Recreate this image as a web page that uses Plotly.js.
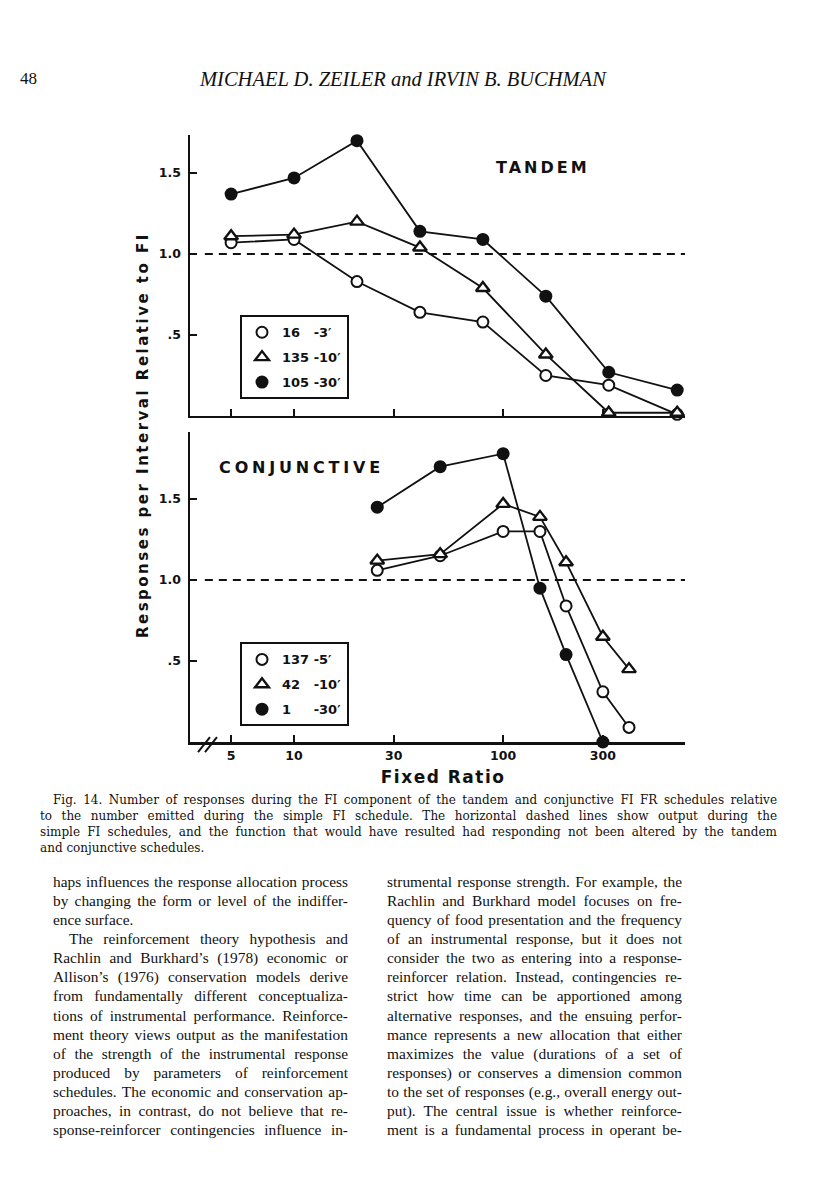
<!DOCTYPE html>
<html>
<head>
<meta charset="utf-8">
<script src="https://cdn.plot.ly/plotly-3.0.1.min.js"></script>
<style>
  body { margin: 0; background: #fff; }
  #page { position: relative; width: 816px; height: 1200px; overflow: hidden; background: #fff; color: #111; }
  #chart { position: absolute; left: 0; top: 0; width: 816px; height: 800px; }
  .txt { position: absolute; white-space: nowrap; }
  .serif { font-family: "Liberation Serif", serif; }
  .line { display: block; text-align: justify; text-align-last: justify; }
  .line.last { text-align: left; text-align-last: left; }
  #caption { font-family: "DejaVu Serif", serif; font-size: 12px; line-height: 16px; left: 40px; top: 792px; width: 737px; }
  .col { font-family: "Liberation Serif", serif; font-size: 15.4px; line-height: 19.08px; top: 872px; width: 295px; }
</style>
</head>
<body>
<div id="page">
  <div id="chart"></div>

  <div class="txt serif" style="left:20px; top:68px; font-size:17px; line-height:22px;">48</div>
  <div class="txt serif" style="left:200px; top:67px; font-size:20.5px; line-height:24px; font-style:italic;">MICHAEL D. ZEILER and IRVIN B. BUCHMAN</div>

  <div id="caption" class="txt">
    <span class="line" style="padding-left:13px;">Fig. 14. Number of responses during the FI component of the tandem and conjunctive FI FR schedules relative</span>
    <span class="line">to the number emitted during the simple FI schedule. The horizontal dashed lines show output during the</span>
    <span class="line">simple FI schedules, and the function that would have resulted had responding not been altered by the tandem</span>
    <span class="line last">and conjunctive schedules.</span>
  </div>

  <div class="txt col" style="left:53px;">
    <span class="line">haps influences the response allocation process</span>
    <span class="line">by changing the form or level of the indiffer-</span>
    <span class="line last">ence surface.</span>
    <span class="line" style="padding-left:16px;">The reinforcement theory hypothesis and</span>
    <span class="line">Rachlin and Burkhard’s (1978) economic or</span>
    <span class="line">Allison’s (1976) conservation models derive</span>
    <span class="line">from fundamentally different conceptualiza-</span>
    <span class="line">tions of instrumental performance. Reinforce-</span>
    <span class="line">ment theory views output as the manifestation</span>
    <span class="line">of the strength of the instrumental response</span>
    <span class="line">produced by parameters of reinforcement</span>
    <span class="line">schedules. The economic and conservation ap-</span>
    <span class="line">proaches, in contrast, do not believe that re-</span>
    <span class="line">sponse-reinforcer contingencies influence in-</span>
  </div>

  <div class="txt col" style="left:387px;">
    <span class="line">strumental response strength. For example, the</span>
    <span class="line">Rachlin and Burkhard model focuses on fre-</span>
    <span class="line">quency of food presentation and the frequency</span>
    <span class="line">of an instrumental response, but it does not</span>
    <span class="line">consider the two as entering into a response-</span>
    <span class="line">reinforcer relation. Instead, contingencies re-</span>
    <span class="line">strict how time can be apportioned among</span>
    <span class="line">alternative responses, and the ensuing perfor-</span>
    <span class="line">mance represents a new allocation that either</span>
    <span class="line">maximizes the value (durations of a set of</span>
    <span class="line">responses) or conserves a dimension common</span>
    <span class="line">to the set of responses (e.g., overall energy out-</span>
    <span class="line">put). The central issue is whether reinforce-</span>
    <span class="line">ment is a fundamental process in operant be-</span>
  </div>
</div>

<script>
// fixed ratio values, tandem panel
const frTandem = [5, 10, 20, 40, 80, 160, 320, 680];
const tandem16 = [1.07, 1.09, 0.83, 0.64, 0.58, 0.25, 0.19, 0.01];
const tandem135 = [1.11, 1.12, 1.20, 1.04, 0.79, 0.38, 0.02, 0.02];
const tandem105 = [1.37, 1.47, 1.70, 1.14, 1.09, 0.74, 0.27, 0.16];

// conjunctive panel
const frConj = [25, 50, 100, 150, 200, 300, 400];
const conj137 = [1.06, 1.15, 1.30, 1.30, 0.84, 0.31, 0.09];
const conj42 = [1.12, 1.16, 1.47, 1.39, 1.11, 0.65, 0.45];
const conj1 = [1.45, 1.70, 1.78, 0.95, 0.54, 0.0];

const frTicks = [5, 10, 30, 100, 300];
const frTickText = ["5", "10", "30", "100", "300"];
const yTicks = [0.5, 1.0, 1.5];
const yTickText = [".5", "1.0", "1.5"];
const simpleFI = 1.0; // dashed line: simple FI output

const ink = "#111";
const openCircle = { symbol: "circle", size: 11, color: "white", line: { color: ink, width: 2 } };
const openTri = { symbol: "triangle-up", size: 12, color: "white", line: { color: ink, width: 2.4 } };
const filled = { symbol: "circle", size: 13, color: ink, line: { color: ink, width: 0 } };

const series = [
    { x: frTandem, y: tandem16, name: "16\u00a0\u00a0\u00a0-3′", marker: openCircle, xa: "x", ya: "y", lg: "legend" },
    { x: frTandem, y: tandem135, name: "135 -10′", marker: openTri, xa: "x", ya: "y", lg: "legend" },
    { x: frTandem, y: tandem105, name: "105 -30′", marker: filled, xa: "x", ya: "y", lg: "legend" },
    { x: frConj, y: conj137, name: "137 -5′", marker: openCircle, xa: "x2", ya: "y2", lg: "legend2" },
    { x: frConj, y: conj42, name: "42\u00a0\u00a0\u00a0-10′", marker: openTri, xa: "x2", ya: "y2", lg: "legend2" },
    { x: frConj.slice(0, conj1.length), y: conj1, name: "1\u00a0\u00a0\u00a0\u00a0\u00a0-30′", marker: filled, xa: "x2", ya: "y2", lg: "legend2" }
];

let traces = [];
// lines first so that every marker sits on top
series.forEach(s => {
    traces.push({ x: s.x, y: s.y, xaxis: s.xa, yaxis: s.ya, mode: "lines", type: "scatter",
        line: { color: ink, width: 1.8 }, showlegend: false, cliponaxis: false, hoverinfo: "skip" });
});
series.forEach((s, i) => {
    traces.push({ x: s.x, y: s.y, xaxis: s.xa, yaxis: s.ya, mode: "markers", type: "scatter",
        marker: s.marker, name: s.name, legend: s.lg, legendgroup: "g" + i, cliponaxis: false });
});

const tickFont = { family: "DejaVu Sans", size: 12.5, color: ink, weight: "bold" };
const xBase = { type: "log", range: [Math.log10(3.18), Math.log10(741)], domain: [0, 1],
    tickvals: frTicks, ticktext: frTickText, ticks: "inside", ticklen: 7, tickwidth: 2, tickcolor: ink,
    showline: true, linewidth: 2.5, linecolor: ink, showgrid: false, zeroline: false, tickfont: tickFont };
const yBase = { tickvals: yTicks, ticktext: yTickText, ticks: "inside", ticklen: 7, tickwidth: 2, tickcolor: ink,
    showline: true, linewidth: 2.5, linecolor: ink, showgrid: false, zeroline: false, tickfont: tickFont,
    ticklabelstandoff: 4 };

const legendBase = { x: 0.101, xanchor: "left", yanchor: "top", bordercolor: ink, borderwidth: 2,
    bgcolor: "white", font: { family: "DejaVu Sans", size: 13, color: ink, weight: "bold" },
    tracegroupgap: 5, itemwidth: 30 };

const dash = { color: ink, width: 2, dash: "8px,6px" };
const brk = { color: ink, width: 2 };

const annFont = { family: "DejaVu Sans", weight: "bold", color: ink };
const ann = (text, x, y, size, extra) => Object.assign({ text, x, y, xref: "paper", yref: "paper",
    xanchor: "center", yanchor: "middle", showarrow: false, font: Object.assign({ size }, annFont) }, extra || {});

const layout = {
    width: 816, height: 800,
    margin: { l: 190, r: 131, t: 135, b: 58 },
    paper_bgcolor: "white", plot_bgcolor: "rgba(0,0,0,0)",
    font: { family: "DejaVu Sans", color: ink },
    xaxis: Object.assign({}, xBase, { anchor: "y", showticklabels: false }),
    xaxis2: Object.assign({}, xBase, { anchor: "y2" }),
    yaxis: Object.assign({}, yBase, { domain: [0.5371, 1], range: [0, 1.735], anchor: "x" }),
    yaxis2: Object.assign({}, yBase, { domain: [0, 0.5107], range: [0, 1.914], anchor: "x2" }),
    legend: Object.assign({}, legendBase, { y: 0.703 }),
    legend2: Object.assign({}, legendBase, { y: 0.164 }),
    shapes: [
        { type: "line", xref: "paper", yref: "y", x0: 0.03, x1: 1, y0: simpleFI, y1: simpleFI, line: dash, layer: "below" },
        { type: "line", xref: "paper", yref: "y2", x0: 0.03, x1: 1, y0: simpleFI, y1: simpleFI, line: dash, layer: "below" },
        // axis break
        { type: "line", xref: "paper", yref: "paper", x0: 0.0162, y0: -0.0165, x1: 0.0404, y1: 0.0082, line: brk },
        { type: "line", xref: "paper", yref: "paper", x0: 0.0303, y0: -0.0165, x1: 0.0545, y1: 0.0082, line: brk }
    ],
    annotations: [
        ann("TANDEM", 0.713, 0.947, 16),
        ann("CONJUNCTIVE", 0.226, 0.453, 16),
        ann("Responses per Interval Relative to FI", -0.095, 0.506, 15, { textangle: -90 }),
        ann("Fixed Ratio", 0.511, -0.0577, 17)
    ]
};

const spacing = { "TANDEM": "3px", "CONJUNCTIVE": "3.8px", "Fixed Ratio": "1.5px",
    "Responses per Interval Relative to FI": "2.5px" };

Plotly.newPlot("chart", traces, layout, { staticPlot: true }).then(gd => {
    gd.querySelectorAll(".annotation-text").forEach(t => {
        const s = spacing[t.textContent];
        if (s) t.style.letterSpacing = s;
    });
});
</script>
</body>
</html>
